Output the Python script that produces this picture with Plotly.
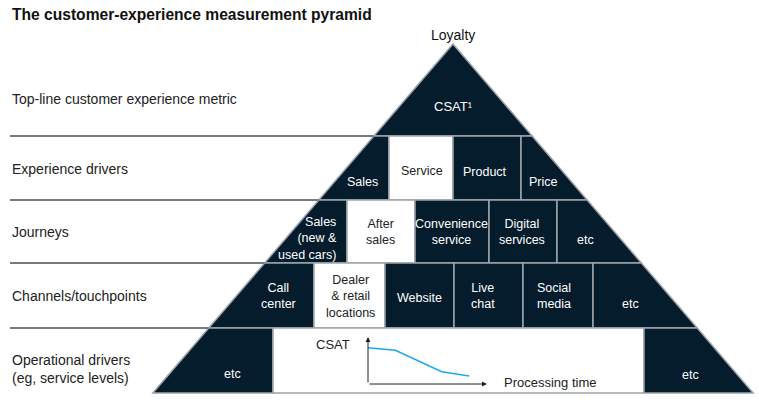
import plotly.graph_objects as go

# ---------------- data ----------------
title = "The customer-experience measurement pyramid"
apex_label = "Loyalty"
top_metric = "CSAT¹"
row_labels = [
    "Top-line customer experience metric",
    "Experience drivers",
    "Journeys",
    "Channels/touchpoints",
    "Operational drivers<br>(eg, service levels)",
]
experience_drivers = ["Sales", "Service", "Product", "Price"]
experience_fill = ["dark", "white", "dark", "dark"]
journeys = ["Sales<br>(new &<br>used cars)", "After<br>sales", "Convenience<br>service",
            "Digital<br>services", "etc"]
journeys_fill = ["dark", "white", "dark", "dark", "dark"]
channels = ["Call<br>center", "Dealer<br>& retail<br>locations", "Website", "Live<br>chat",
            "Social<br>media", "etc"]
channels_fill = ["dark", "white", "dark", "dark", "dark", "dark"]
operational = ["etc", "", "etc"]
operational_fill = ["dark", "white", "dark"]

# mini chart: CSAT vs processing time (axis units 0-10)
processing_time = [0, 2.3, 6.2, 8.5]
csat_values = [7.7, 7.2, 2.6, 1.7]
mini_y_label = "CSAT"
mini_x_label = "Processing time"

# ---------------- layout geometry (pixels) ----------------
W, H = 759, 403
APEX_X, APEX_Y = 453, 44
SLOPE = 0.86
ROW_Y = [136, 200, 263, 328, 393]
DIVIDERS = [
    [389, 453, 521],
    [347, 415, 489, 557],
    [314, 385, 454, 523, 593],
    [273, 644],
]
DARK = "#051c2c"
BORDER = "#9ea4aa"
SEP = "#7a7a7a"
FONT = "Liberation Sans"

# mini chart pixel frame: value 0 -> px0, value 10 -> px10
MX0, MX10 = 368, 487
MY0, MY10 = 384, 337


def left_x(y):
    return APEX_X - SLOPE * (y - APEX_Y)


def right_x(y):
    return APEX_X + SLOPE * (y - APEX_Y)


shapes = []
shapes.append(dict(
    type="path", xref="x", yref="y", layer="below",
    path=f"M {APEX_X},{APEX_Y} L {right_x(ROW_Y[0])},{ROW_Y[0]} L {left_x(ROW_Y[0])},{ROW_Y[0]} Z",
    fillcolor=DARK, line=dict(color=BORDER, width=1.5)))

fills_all = [experience_fill, journeys_fill, channels_fill, operational_fill]
for r in range(4):
    y0, y1 = ROW_Y[r], ROW_Y[r + 1]
    xs = DIVIDERS[r]
    n = len(xs) + 1
    for i in range(n):
        fill = DARK if fills_all[r][i] == "dark" else "white"
        if i == 0:
            pts = [(left_x(y0), y0), (xs[0], y0), (xs[0], y1), (left_x(y1), y1)]
        elif i == n - 1:
            pts = [(xs[-1], y0), (right_x(y0), y0), (right_x(y1), y1), (xs[-1], y1)]
        else:
            pts = [(xs[i - 1], y0), (xs[i], y0), (xs[i], y1), (xs[i - 1], y1)]
        path = "M " + " L ".join(f"{px},{py}" for px, py in pts) + " Z"
        shapes.append(dict(type="path", xref="x", yref="y", layer="below", path=path,
                           fillcolor=fill, line=dict(color=BORDER, width=1.5)))

for y in ROW_Y[:4]:
    shapes.append(dict(type="line", xref="x", yref="y", layer="below",
                       x0=10, x1=left_x(y), y0=y, y1=y,
                       line=dict(color=SEP, width=2)))

annotations = []


def txt(x, y, text, color="white", size=12.5, xanchor="center", align="center",
        bold=False, fam=FONT):
    annotations.append(dict(
        x=x, y=y, xref="x", yref="y", text=f"<b>{text}</b>" if bold else text,
        showarrow=False, xanchor=xanchor, yanchor="middle", align=align,
        font=dict(family=fam, size=size, color=color)))


txt(10, 14, title, color="#111111", size=15.6, xanchor="left", bold=True)
txt(APEX_X, 35, apex_label, color="#111111", size=14)
txt(APEX_X, 106, top_metric, color="white", size=13)

row_label_y = [99, 169, 232, 296, 369]
for lab, y in zip(row_labels, row_label_y):
    txt(10, y, lab, color="#222222", size=14, xanchor="left", align="left")

pos1 = [(362, 182), (422, 171), (485, 172), (543, 182)]
for lab, f, (x, y) in zip(experience_drivers, experience_fill, pos1):
    txt(x, y, lab, color="white" if f == "dark" else "#222222")
pos2 = [(339, 238), (380, 232), (451, 232), (522, 232), (585, 240)]
for k, (lab, f, (x, y)) in enumerate(zip(journeys, journeys_fill, pos2)):
    if k == 0:
        txt(x, y, lab, color="white", xanchor="right", align="right")
    else:
        txt(x, y, lab, color="white" if f == "dark" else "#222222")
pos3 = [(278, 296), (350, 296), (419, 298), (483, 296), (554, 296), (630, 304)]
for lab, f, (x, y) in zip(channels, channels_fill, pos3):
    txt(x, y, lab, color="white" if f == "dark" else "#222222")
pos4 = [(232, 374), (0, 0), (690, 375)]
for lab, f, (x, y) in zip(operational, operational_fill, pos4):
    if lab:
        txt(x, y, lab, color="white")

txt(333, 344, mini_y_label, color="#222222", size=13)
txt(502, 382, mini_x_label, color="#222222", size=13, xanchor="left")

# mini chart axes arrows
annotations.append(dict(x=0, y=10, ax=0, ay=0, xref="x2", yref="y2", axref="x2", ayref="y2",
                        showarrow=True, arrowhead=2, arrowsize=1, arrowwidth=1,
                        arrowcolor="#222222", text=""))
annotations.append(dict(x=10, y=0, ax=0, ay=0, xref="x2", yref="y2", axref="x2", ayref="y2",
                        showarrow=True, arrowhead=2, arrowsize=1, arrowwidth=1,
                        arrowcolor="#222222", text=""))

fig = go.Figure()
fig.add_trace(go.Scatter(x=processing_time, y=csat_values, mode="lines",
                         line=dict(color="#1ea7ec", width=1.6),
                         xaxis="x2", yaxis="y2", hoverinfo="skip", showlegend=False))

sx = (MX10 - MX0) / 10.0
sy = (MY0 - MY10) / 10.0
fig.update_layout(
    width=W, height=H,
    margin=dict(l=0, r=0, t=0, b=0),
    paper_bgcolor="white", plot_bgcolor="white",
    xaxis=dict(range=[0, W], visible=False, domain=[0, 1], fixedrange=True),
    yaxis=dict(range=[H, 0], visible=False, domain=[0, 1], fixedrange=True),
    xaxis2=dict(range=[-1, 11], visible=False, anchor="y2", fixedrange=True,
                domain=[(MX0 - sx) / W, (MX0 + 11 * sx) / W]),
    yaxis2=dict(range=[-1, 11], visible=False, anchor="x2", fixedrange=True,
                domain=[(H - (MY0 + sy)) / H, (H - (MY0 - 11 * sy)) / H]),
    shapes=shapes,
    annotations=annotations,
    showlegend=False,
    hovermode=False,
)

fig.write_html("out.html", config={"displayModeBar": False},
               post_script="document.body.style.margin='0';")
